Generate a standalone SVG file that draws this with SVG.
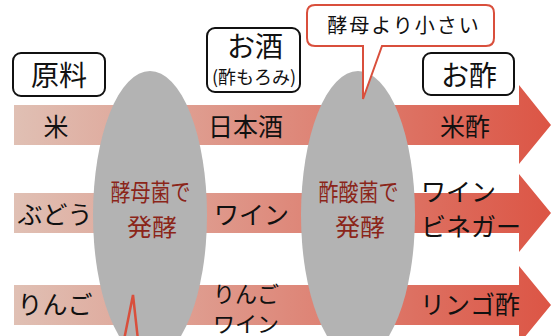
<svg xmlns="http://www.w3.org/2000/svg" width="551" height="336" viewBox="0 0 551 336">
<defs>
<linearGradient id="g" gradientUnits="userSpaceOnUse" x1="14" y1="0" x2="551" y2="0">
<stop offset="0" stop-color="#e0c0b4"/>
<stop offset="1" stop-color="#dc5545"/>
</linearGradient>
<style>
text{font-family:"Noto Sans CJK JP","Noto Sans",sans-serif;dominant-baseline:central;fill:#111}
.lab{font-size:28px;text-anchor:middle}
.row{font-size:25px}
.mid{text-anchor:middle}
.box{fill:#fff;stroke:#111;stroke-width:2}
.ell{fill:#b3b3b3}
.et{font-size:24px;fill:#8b2519;text-anchor:middle}
.call{fill:#fff;stroke:#d94f3c;stroke-width:2}
</style>
</defs>
<g id="arrows">
<path d="M14,105 H519 V85 L551,125 L519,164 V145 H14 Z" fill="url(#g)"/>
<path d="M14,193 H519 V174 L551,213 L519,252 V233 H14 Z" fill="url(#g)"/>
<path d="M14,285 H519 V266 L551,305 L519,344 V325 H14 Z" fill="url(#g)"/>
</g>
<g id="yeast">
<ellipse class="ell" cx="150" cy="215" rx="57" ry="144"/>
<text class="et" x="150.5" y="190.5" textLength="80" lengthAdjust="spacingAndGlyphs">酵母菌で</text>
<text class="et" x="152" y="225.5" textLength="50" lengthAdjust="spacingAndGlyphs">発酵</text>
</g>
<g id="acetic">
<ellipse class="ell" cx="358" cy="215" rx="57" ry="144"/>
<text class="et" x="358.5" y="190.5" textLength="80" lengthAdjust="spacingAndGlyphs">酢酸菌で</text>
<text class="et" x="360" y="225.5" textLength="50" lengthAdjust="spacingAndGlyphs">発酵</text>
</g>
<g id="label-raw">
<rect class="box" x="13" y="53" width="92" height="43" rx="8"/>
<text class="lab" x="59" y="73.5">原料</text>
</g>
<g id="label-sake">
<rect class="box" x="207" y="28" width="93" height="64" rx="8"/>
<text class="lab" x="255" y="45">お酒</text>
<text x="254" y="76" font-size="18" text-anchor="middle">(酢もろみ)</text>
</g>
<g id="label-vinegar">
<rect class="box" x="423" y="53" width="91" height="42" rx="8"/>
<text class="lab" x="469" y="74">お酢</text>
</g>
<g id="callout">
<path class="call" d="M315,5 H486 Q494,5 494,13 V38 Q494,46 486,46 H382 L363,99 L363,46 H315 Q307,46 307,38 V13 Q307,5 315,5 Z"/>
<text x="404" y="24" font-size="20" letter-spacing="2" text-anchor="middle">酵母より小さい</text>
</g>
<g id="connectors">
<polyline points="124,340 133,295 138,340" fill="none" stroke="#d94f3c" stroke-width="2.5"/>
</g>
<g id="row1">
<text class="row mid" x="56" y="125">米</text>
<text class="row" x="208" y="125">日本酒</text>
<text class="row" x="440" y="125">米酢</text>
</g>
<g id="row2">
<text class="row mid" x="55" y="213">ぶどう</text>
<text class="row" x="214" y="213">ワイン</text>
<text class="row" x="421" y="190">ワイン</text>
<text class="row" x="421" y="225">ビネガー</text>
</g>
<g id="row3">
<text class="row mid" x="55" y="303">りんご</text>
<text x="213" y="291.5" font-size="22">りんご</text>
<text x="213" y="321.5" font-size="22">ワイン</text>
<text class="row" x="420" y="303">リンゴ酢</text>
</g>
</svg>
